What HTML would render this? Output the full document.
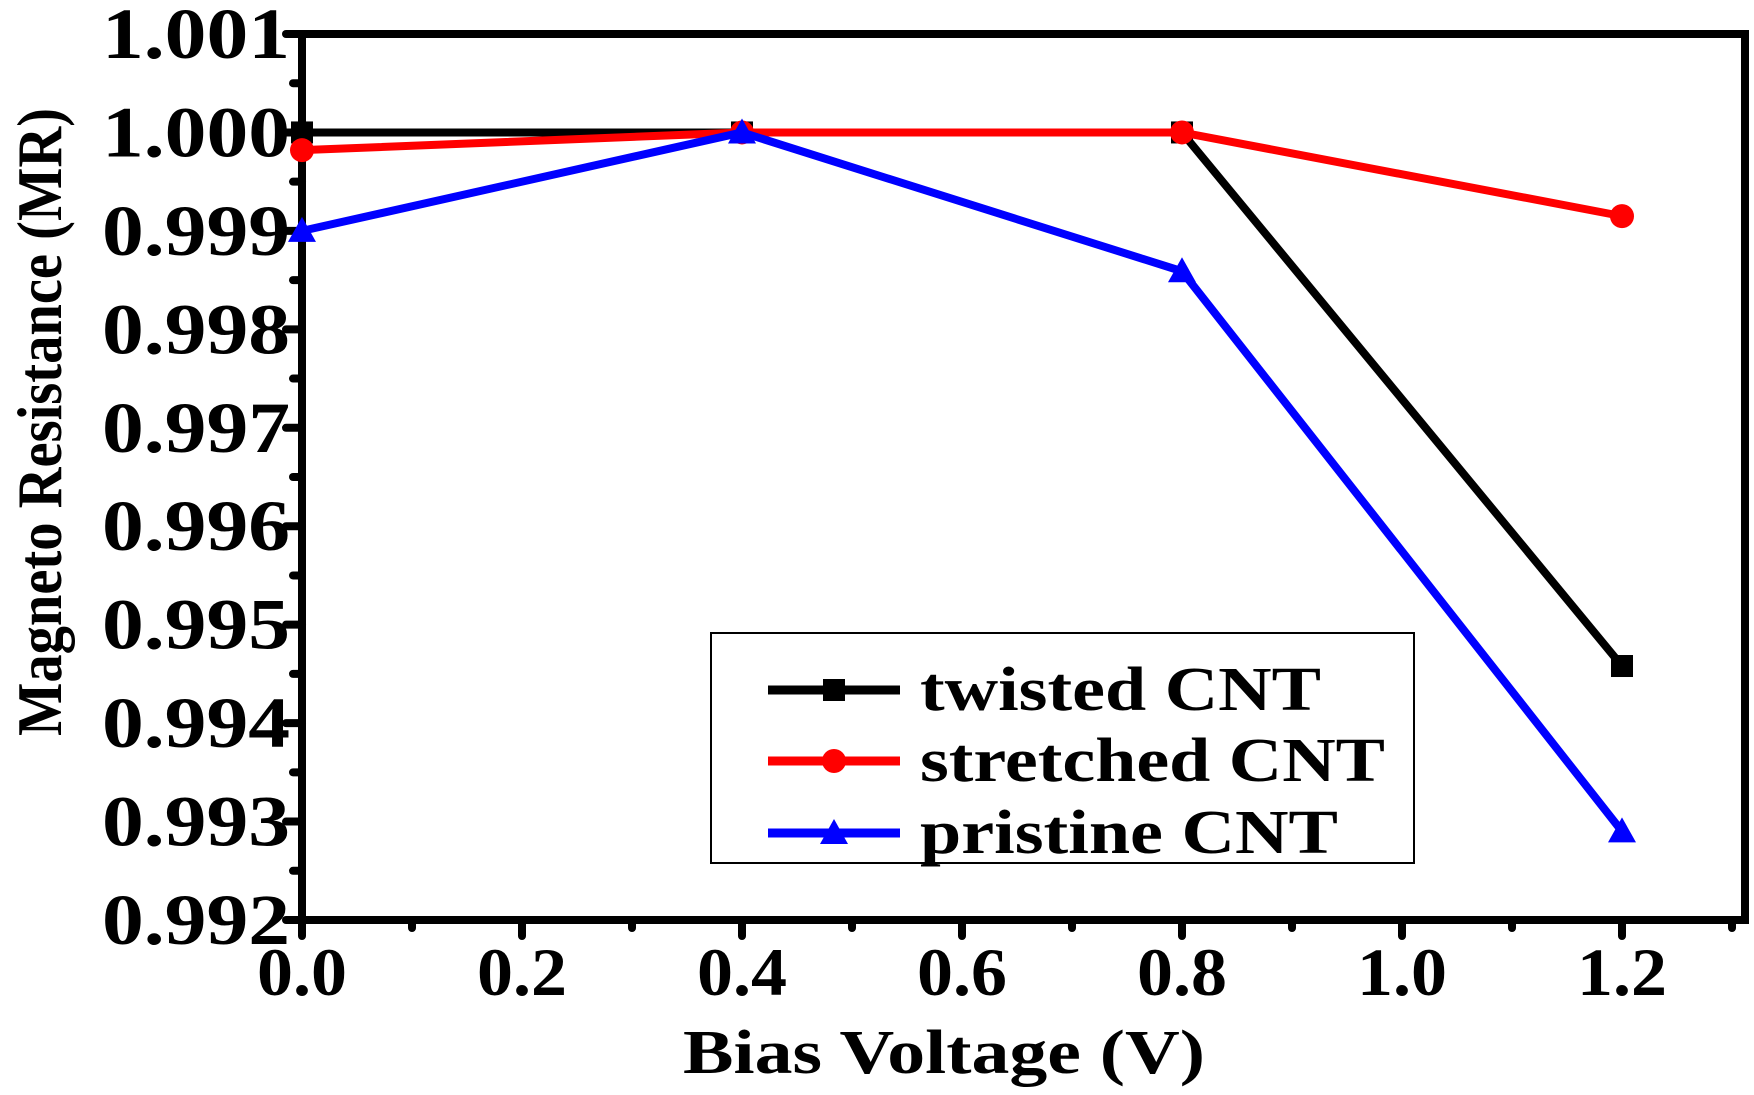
<!DOCTYPE html>
<html><head><meta charset="utf-8"><style>html,body{margin:0;padding:0;background:#fff}</style></head>
<body>
<svg width="1754" height="1090" xmlns="http://www.w3.org/2000/svg" font-family="'Liberation Serif', serif" font-weight="bold">
<g id="plot"></g>
</svg>
<script>
const xValues = [0, 0.4, 0.8, 1.2];
const twisted = [1.0, 1.0, 1.0, 0.99458];
const stretched = [0.99982, 1.0, 1.0, 0.99915];
const pristine = [0.9990, 1.0, 0.99859, 0.99290];
const xTicks = ["0.0","0.2","0.4","0.6","0.8","1.0","1.2"];
const yTicks = ["0.992","0.993","0.994","0.995","0.996","0.997","0.998","0.999","1.000","1.001"];

const NS = "http://www.w3.org/2000/svg";
const g = document.getElementById('plot');
const X = v => 302 + v / 0.2 * 220;
const Y = v => 920 - (v - 0.992) / 0.009 * 886;
function el(tag, attrs, parent) {
  const e = document.createElementNS(NS, tag);
  for (const k in attrs) e.setAttribute(k, attrs[k]);
  (parent || g).appendChild(e);
  return e;
}
const box = el('rect', {x:302, y:Y(1.001), width:1745-302, height:920-Y(1.001), fill:'none', stroke:'#000', 'stroke-width':8});


yTicks.forEach((t, i) => {
  const v = parseFloat(t), y = Y(v);
  const tk = el('line', {x1:286, x2:302, y1:y, y2:y, stroke:'#000', 'stroke-width':8, 'stroke-linecap':'round'});
  
  
  if (i < yTicks.length - 1) {
    const ym = Y(v + 0.0005);
    const mt = el('line', {x1:293, x2:302, y1:ym, y2:ym, stroke:'#000', 'stroke-width':8, 'stroke-linecap':'round'});
    
    
  }
  const lb = el('text', {x:290, y:y + 24, 'text-anchor':'end', 'font-size':72, textLength:188, lengthAdjust:'spacingAndGlyphs'});
  lb.textContent = t;
  
  
});
xTicks.forEach((t, i) => {
  const v = parseFloat(t), x = X(v);
  const tk = el('line', {x1:x, x2:x, y1:920, y2:936, stroke:'#000', 'stroke-width':8, 'stroke-linecap':'round'});
  
  
  const xm = X(v + 0.1);
  if (xm < 1740) {
    const mt = el('line', {x1:xm, x2:xm, y1:920, y2:928, stroke:'#000', 'stroke-width':8, 'stroke-linecap':'round'});
    
    
  }
  const lb = el('text', {x:x, y:995, 'text-anchor':'middle', 'font-size':68, textLength:90, lengthAdjust:'spacingAndGlyphs'});
  lb.textContent = t;
  
  
});
const xt = el('text', {x:944, y:1073, 'text-anchor':'middle', 'font-size':62, textLength:522, lengthAdjust:'spacingAndGlyphs'});
xt.textContent = 'Bias Voltage (V)';


const yt = el('text', {x:0, y:0, 'text-anchor':'middle', 'font-size':64, textLength:628, lengthAdjust:'spacingAndGlyphs', transform:'translate(61,422) rotate(-90)'});
yt.textContent = 'Magneto Resistance (MR)';



function marker(kind, x, y, color, parent) {
  let m;
  if (kind === 'square') m = el('rect', {x:x-11, y:y-11, width:22, height:22, fill:color}, parent);
  else if (kind === 'circle') m = el('circle', {cx:x, cy:y, r:12, fill:color}, parent);
  else m = el('polygon', {points:`${x},${y-14} ${x-14},${y+11} ${x+14},${y+11}`, fill:color}, parent);
  return m;
}
const series = [
  {name:'twisted CNT', data:twisted, color:'#000', mk:'square', key:'twisted'},
  {name:'stretched CNT', data:stretched, color:'#ff0000', mk:'circle', key:'stretched'},
  {name:'pristine CNT', data:pristine, color:'#0000ff', mk:'triangle', key:'pristine'}
];
series.forEach(s => {
  const sg = el('g', {});
  
  
  const pts = s.data.map((v, i) => X(xValues[i]) + ',' + Y(v)).join(' ');
  const pl = el('polyline', {points:pts, fill:'none', stroke:s.color, 'stroke-width':8}, sg);
  
  
  s.data.forEach((v, i) => {
    const m = marker(s.mk, X(xValues[i]), Y(v), s.color, sg);
    
    
  });
});
const lg = el('g', {});


const lr = el('rect', {x:711, y:633, width:703, height:230, fill:'#fff', stroke:'#000', 'stroke-width':2}, lg);


const ly = [690, 761, 833];
const lw = [401, 465, 418];
series.forEach((s, i) => {
  const ln = el('line', {x1:768, x2:900, y1:ly[i], y2:ly[i], stroke:s.color, 'stroke-width':9}, lg);
  
  
  const m = marker(s.mk, 834, ly[i], s.color, lg);
  
  
  const tx = el('text', {x:920, y:ly[i] + 20, 'font-size':62, textLength:lw[i], lengthAdjust:'spacingAndGlyphs'}, lg);
  tx.textContent = s.name;
  
  
});
</script>
</body></html>
